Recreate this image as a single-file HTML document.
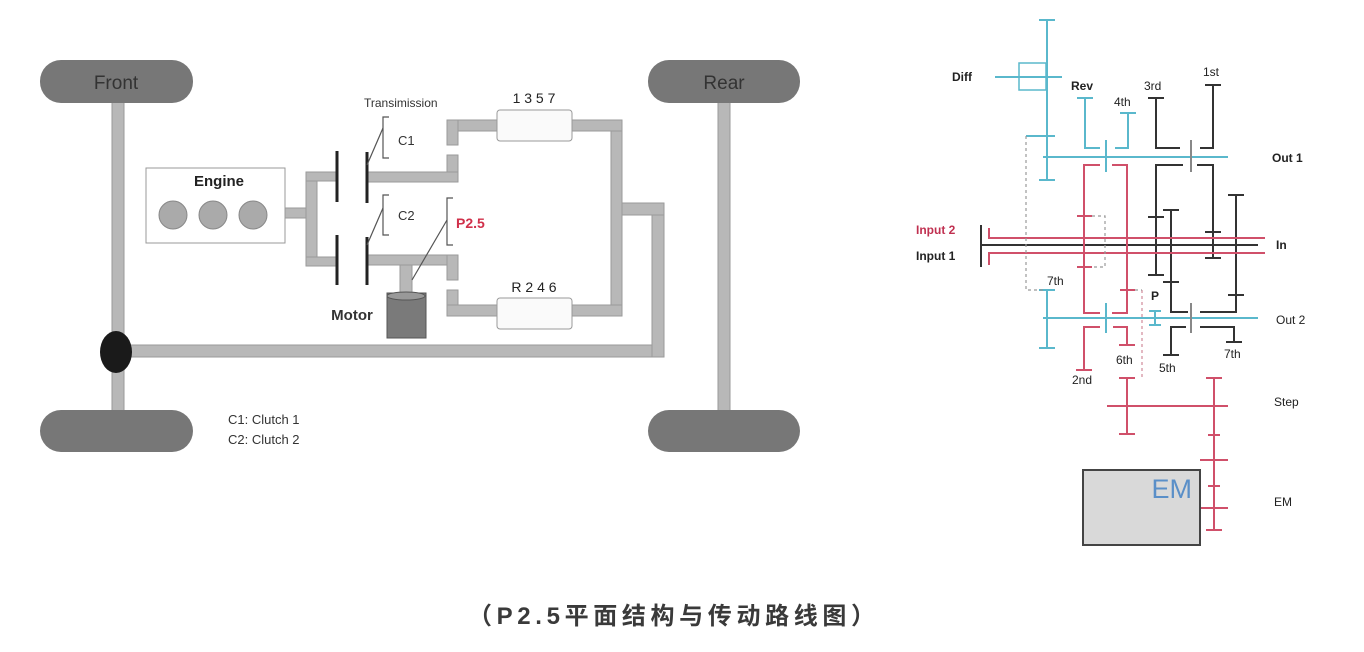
<!DOCTYPE html>
<html><head><meta charset="utf-8"><style>
html,body{margin:0;padding:0;background:#fff;}
svg{display:block}
text{font-family:"Liberation Sans","Noto Sans CJK SC",sans-serif;}
</style></head><body>
<svg width="1364" height="652" viewBox="0 0 1364 652" xmlns="http://www.w3.org/2000/svg">
<rect width="1364" height="652" fill="#fff"/>
<!-- LEFT DIAGRAM -->
<g fill="#b8b8b8" stroke="#9a9a9a" stroke-width="1">
<rect x="112" y="100" width="12" height="312"/>
<rect x="718" y="100" width="12" height="312"/>
<rect x="130" y="345" width="534" height="12"/>
<rect x="652" y="203" width="12" height="154"/>
<rect x="611" y="203" width="53" height="12"/>
<rect x="611" y="120" width="11" height="196"/>
<rect x="572" y="120" width="50" height="11"/>
<rect x="572" y="305" width="50" height="11"/>
<rect x="447" y="120" width="50" height="11"/>
<rect x="447" y="120" width="11" height="25"/>
<rect x="447" y="155" width="11" height="27"/>
<rect x="367" y="172" width="91" height="10"/>
<rect x="367" y="255" width="91" height="10"/>
<rect x="447" y="255" width="11" height="25"/>
<rect x="447" y="290" width="11" height="26"/>
<rect x="447" y="305" width="50" height="11"/>
<rect x="285" y="208" width="22" height="10"/>
<rect x="306" y="172" width="11" height="94"/>
<rect x="306" y="172" width="30" height="9"/>
<rect x="306" y="257" width="30" height="9"/>
<rect x="400" y="265" width="12" height="28"/>
</g>
<rect x="40" y="60" width="153" height="43" rx="21" fill="#777"/>
<rect x="40" y="410" width="153" height="42" rx="21" fill="#777"/>
<rect x="648" y="60" width="152" height="43" rx="21" fill="#777"/>
<rect x="648" y="410" width="152" height="42" rx="21" fill="#777"/>
<text x="116" y="89" font-size="19" fill="#333" text-anchor="middle">Front</text>
<text x="724" y="89" font-size="19" fill="#333" text-anchor="middle">Rear</text>
<ellipse cx="116" cy="352" rx="16" ry="21" fill="#1a1a1a"/>
<rect x="146" y="168" width="139" height="75" fill="#fff" stroke="#999"/>
<g fill="#aaa" stroke="#888"><circle cx="173" cy="215" r="14"/><circle cx="213" cy="215" r="14"/><circle cx="253" cy="215" r="14"/></g>
<text x="219" y="186" font-size="15" font-weight="bold" fill="#222" text-anchor="middle">Engine</text>
<g stroke="#222" stroke-width="3">
<line x1="337" y1="151" x2="337" y2="202"/><line x1="337" y1="235" x2="337" y2="285"/>
<line x1="367" y1="152" x2="367" y2="203"/><line x1="367" y1="237" x2="367" y2="285"/>
</g>
<g fill="none" stroke="#555" stroke-width="1.2">
<polyline points="389,117 383,117 383,158 389,158"/>
<line x1="383" y1="128" x2="367" y2="165"/>
<polyline points="389,195 383,195 383,235 389,235"/>
<line x1="383" y1="208" x2="367" y2="245"/>
<polyline points="453,198 447,198 447,245 453,245"/>
<line x1="447" y1="220" x2="412" y2="280"/>
</g>
<text x="398" y="145" font-size="13" fill="#333">C1</text>
<text x="398" y="220" font-size="13" fill="#333">C2</text>
<text x="456" y="228" font-size="14" font-weight="bold" fill="#d0304a">P2.5</text>
<text x="364" y="107" font-size="12" fill="#333">Transimission</text>
<rect x="497" y="110" width="75" height="31" rx="3" fill="#fafafa" stroke="#999"/>
<rect x="497" y="298" width="75" height="31" rx="3" fill="#fafafa" stroke="#999"/>
<text x="534" y="103" font-size="14" fill="#222" text-anchor="middle">1 3 5 7</text>
<text x="534" y="292" font-size="14" fill="#222" text-anchor="middle">R 2 4 6</text>
<rect x="387" y="293" width="39" height="45" fill="#7a7a7a" stroke="#555"/>
<ellipse cx="406" cy="296" rx="19" ry="4" fill="#999" stroke="#555"/>
<text x="352" y="320" font-size="15" font-weight="bold" fill="#333" text-anchor="middle">Motor</text>
<text x="228" y="424" font-size="13" fill="#333">C1: Clutch 1</text>
<text x="228" y="444" font-size="13" fill="#333">C2: Clutch 2</text>

<!-- RIGHT DIAGRAM -->
<g stroke="#5ab8cc" stroke-width="2" fill="none">
<line x1="1047" y1="20" x2="1047" y2="180"/>
<line x1="1039" y1="20" x2="1055" y2="20"/><line x1="1039" y1="180" x2="1055" y2="180"/>
<rect x="1019" y="63" width="27" height="27" stroke-width="1.5"/>
<line x1="995" y1="77" x2="1062" y2="77"/>
<line x1="1043" y1="157" x2="1228" y2="157"/>
<polyline points="1077,98 1085,98 1085,148 1100,148"/><line x1="1077" y1="98" x2="1093" y2="98"/>
<polyline points="1115,148 1128,148 1128,113"/><line x1="1120" y1="113" x2="1136" y2="113"/>
<line x1="1106" y1="140" x2="1106" y2="172"/>
<line x1="1043" y1="318" x2="1258" y2="318"/>
<line x1="1047" y1="290" x2="1047" y2="348"/><line x1="1039" y1="290" x2="1055" y2="290"/><line x1="1039" y1="348" x2="1055" y2="348"/>
<line x1="1106" y1="303" x2="1106" y2="333"/>
<line x1="1155" y1="311" x2="1155" y2="325"/><line x1="1149" y1="311" x2="1161" y2="311"/><line x1="1149" y1="325" x2="1161" y2="325"/>
<line x1="1026" y1="136" x2="1055" y2="136"/>
</g>
<g stroke="#333" stroke-width="2" fill="none">
<polyline points="1148,98 1156,98 1156,148 1180,148"/><line x1="1148" y1="98" x2="1164" y2="98"/>
<polyline points="1200,148 1213,148 1213,85"/><line x1="1205" y1="85" x2="1221" y2="85"/>
<line x1="1191" y1="140" x2="1191" y2="172" stroke="#888"/>
<polyline points="1183,165 1156,165 1156,275"/><line x1="1148" y1="217" x2="1164" y2="217"/><line x1="1148" y1="275" x2="1164" y2="275"/>
<polyline points="1163,210 1171,210 1171,312 1188,312"/><line x1="1163" y1="210" x2="1179" y2="210"/><line x1="1163" y1="282" x2="1179" y2="282"/>
<polyline points="1197,165 1213,165 1213,258"/><line x1="1205" y1="232" x2="1221" y2="232"/><line x1="1205" y1="258" x2="1221" y2="258"/>
<polyline points="1228,195 1236,195 1236,312 1200,312"/><line x1="1228" y1="195" x2="1244" y2="195"/><line x1="1228" y1="295" x2="1244" y2="295"/>
<line x1="1191" y1="303" x2="1191" y2="333" stroke="#888"/>
<polyline points="1186,327 1171,327 1171,355"/><line x1="1163" y1="355" x2="1179" y2="355"/>
<polyline points="1200,327 1234,327 1234,342"/><line x1="1226" y1="342" x2="1242" y2="342"/>
<line x1="981" y1="225" x2="981" y2="267"/>
<line x1="981" y1="245" x2="1258" y2="245"/>
</g>
<g stroke="#d0506a" stroke-width="2" fill="none">
<polyline points="989,228 989,238 1265,238"/>
<polyline points="989,265 989,253 1265,253"/>
<polyline points="1100,165 1084,165 1084,313 1100,313"/>
<line x1="1077" y1="216" x2="1092" y2="216"/><line x1="1077" y1="267" x2="1092" y2="267"/>
<polyline points="1112,165 1127,165 1127,313 1112,313"/>
<line x1="1120" y1="290" x2="1135" y2="290"/>
<polyline points="1100,327 1084,327 1084,370"/><line x1="1076" y1="370" x2="1092" y2="370"/>
<polyline points="1113,327 1127,327 1127,345"/><line x1="1119" y1="345" x2="1135" y2="345"/>
<line x1="1107" y1="406" x2="1228" y2="406"/>
<line x1="1127" y1="378" x2="1127" y2="434"/><line x1="1119" y1="378" x2="1135" y2="378"/><line x1="1119" y1="434" x2="1135" y2="434"/>
<line x1="1214" y1="378" x2="1214" y2="530"/><line x1="1206" y1="378" x2="1222" y2="378"/><line x1="1206" y1="530" x2="1222" y2="530"/>
<line x1="1208" y1="435" x2="1220" y2="435"/><line x1="1200" y1="460" x2="1228" y2="460"/><line x1="1208" y1="486" x2="1220" y2="486"/><line x1="1200" y1="508" x2="1228" y2="508"/>
</g>
<g stroke="#999" stroke-width="1.2" stroke-dasharray="3,3" fill="none">
<polyline points="1026,136 1026,290 1045,290"/>
<polyline points="1092,216 1105,216 1105,267 1092,267"/>
<line x1="1142" y1="290" x2="1142" y2="380" stroke="#d08a9a"/>
<line x1="1135" y1="290" x2="1142" y2="290"/>
</g>
<rect x="1083" y="470" width="117" height="75" fill="#d9d9d9" stroke="#444" stroke-width="2"/>
<text x="1192" y="498" font-size="27" fill="#5a8fc8" text-anchor="end">EM</text>
<g font-size="12" font-weight="bold" fill="#222">
<text x="952" y="81">Diff</text>
<text x="1071" y="90">Rev</text>
<text x="1114" y="106" font-weight="normal">4th</text>
<text x="1144" y="90" font-weight="normal">3rd</text>
<text x="1203" y="76" font-weight="normal">1st</text>
<text x="1272" y="162">Out 1</text>
<text x="916" y="234" fill="#c03050">Input 2</text>
<text x="916" y="260">Input 1</text>
<text x="1276" y="249">In</text>
<text x="1047" y="285" font-weight="normal">7th</text>
<text x="1151" y="300">P</text>
<text x="1276" y="324" font-weight="normal">Out 2</text>
<text x="1116" y="364" font-weight="normal">6th</text>
<text x="1159" y="372" font-weight="normal">5th</text>
<text x="1224" y="358" font-weight="normal">7th</text>
<text x="1072" y="384" font-weight="normal">2nd</text>
<text x="1274" y="406" font-weight="normal">Step</text>
<text x="1274" y="506" font-weight="normal">EM</text>
</g>
<text x="468" y="624" font-size="24" font-weight="bold" fill="#3a3a3a" textLength="407" lengthAdjust="spacing" style="font-family:'Liberation Sans','Noto Sans CJK SC',sans-serif">（P2.5平面结构与传动路线图）</text>
</svg>
</body></html>
